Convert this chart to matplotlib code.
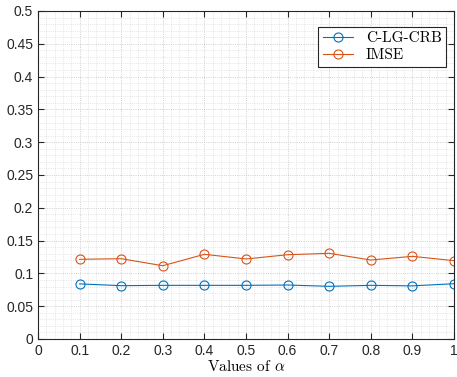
import matplotlib
matplotlib.use("Agg")
import matplotlib.pyplot as plt
from matplotlib.ticker import MultipleLocator

plt.rcParams['mathtext.fontset'] = 'cm'

alpha = [0.1, 0.2, 0.3, 0.4, 0.5, 0.6, 0.7, 0.8, 0.9, 1.0]
clgcrb = [0.084, 0.0813, 0.0818, 0.0818, 0.0818, 0.0823, 0.0803, 0.0818, 0.081, 0.0843]
imse = [0.1215, 0.1224, 0.1117, 0.1291, 0.122, 0.1285, 0.1306, 0.1204, 0.126, 0.1194]
xticks = [0, 0.1, 0.2, 0.3, 0.4, 0.5, 0.6, 0.7, 0.8, 0.9, 1.0]
xlabels = ['0', '0.1', '0.2', '0.3', '0.4', '0.5', '0.6', '0.7', '0.8', '0.9', '1']
yticks = [0, 0.05, 0.1, 0.15, 0.2, 0.25, 0.3, 0.35, 0.4, 0.45, 0.5]
ylabels = ['0', '0.05', '0.1', '0.15', '0.2', '0.25', '0.3', '0.35', '0.4', '0.45', '0.5']

fig = plt.figure(figsize=(4.57, 3.77), dpi=100)
ax = fig.add_axes([38/457, 38/377, 416/457, 328/377])

ax.plot(alpha, clgcrb, color='#0072BD', marker='o', mfc='none', ms=6.5, lw=0.8, mew=0.8, label='C-LG-CRB')
ax.plot(alpha, imse, color='#D95319', marker='o', mfc='none', ms=6.5, lw=0.8, mew=0.8, label='IMSE')

ax.set_xlim(0, 1)
ax.set_ylim(0, 0.5)
ax.set_xticks(xticks, xlabels, family='Liberation Sans')
ax.set_yticks(yticks, ylabels, family='Liberation Sans')
ax.xaxis.set_minor_locator(MultipleLocator(0.02))
ax.yaxis.set_minor_locator(MultipleLocator(0.01))
ax.grid(True, which='major', ls=':', color='#c0c0c0', lw=0.6)
ax.grid(True, which='minor', ls=':', color='#d4d4d4', lw=0.5)
ax.tick_params(which='both', direction='in', top=True, right=True, labelsize=10, colors='#262626')
ax.tick_params(which='major', length=4)
ax.tick_params(which='minor', length=0)
for s in ax.spines.values():
    s.set_color('#262626')
    s.set_linewidth(0.8)

ax.set_xlabel(r'Values of $\alpha$', family='cmr10', fontsize=11, labelpad=1)
leg = ax.legend(loc='upper right', bbox_to_anchor=(0.981, 0.951), borderaxespad=0,
                prop={'family': 'cmr10', 'size': 11}, fancybox=False,
                edgecolor='#262626', framealpha=1, handlelength=2.0,
                borderpad=0.3, labelspacing=0.2)
leg.get_frame().set_linewidth(0.8)

fig.savefig('out.png', dpi=100)
